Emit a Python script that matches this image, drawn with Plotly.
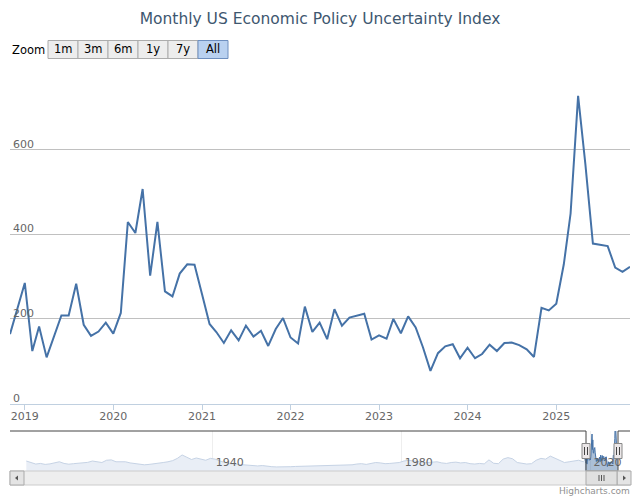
import plotly.graph_objects as go
import pandas as pd

W, H = 640, 500


def px(x):
    return x / W


def py(y):
    return 1 - y / H


# ---------------- data ----------------
title_text = "Monthly US Economic Policy Uncertainty Index"

months = pd.date_range("2018-11-01", "2025-11-01", freq="MS")
epu = [
    164, 225,                                                   # 2018 Nov-Dec
    285, 124, 182, 109, 158, 208, 208, 283, 186, 160, 170, 191,  # 2019
    165, 214, 429, 403, 507, 302, 429, 265, 253, 307, 329, 328,  # 2020
    258, 188, 169, 143, 173, 149, 184, 158, 172, 136, 176, 202,  # 2021
    156, 142, 229, 169, 191, 152, 223, 184, 203, 208, 212, 151,  # 2022
    161, 153, 200, 166, 206, 180, 133, 77, 119, 135, 140, 107,   # 2023
    132, 107, 117, 139, 124, 143, 144, 138, 128, 110, 226, 220,  # 2024
    236, 329, 449, 727, 565, 378, 375, 372, 321, 311, 323,       # 2025
]

# navigator history (rough annual reading of the mini chart)
hist_years = list(range(1900, 2019))
hist_vals = [
    150, 125, 110, 118, 105, 112, 122, 140, 118, 108,
    115, 120, 128, 132, 150, 138, 130, 160, 165, 140,
    135, 140, 125, 115, 110, 100, 105, 110, 118, 130,
    140, 155, 185, 230, 200, 170, 190, 175, 160, 185,
    175, 150, 130, 115, 110, 105, 100, 95, 90, 85,
    90, 80, 75, 72, 70, 72, 75, 78, 80, 78,
    80, 82, 85, 88, 90, 92, 95, 100, 105, 100,
    110, 115, 105, 120, 130, 125, 115, 118, 125, 130,
    150, 160, 150, 145, 140, 130, 135, 140, 125, 118,
    130, 135, 125, 130, 115, 110, 118, 112, 165, 120,
    115, 175, 195, 180, 130, 120, 110, 115, 160, 185,
    175, 215, 190, 165, 130, 140, 150, 160, 140,
]
hist_dates = [pd.Timestamp(f"{y}-07-01") for y in hist_years]

x_tick_years = ["2019", "2020", "2021", "2022", "2023", "2024", "2025"]
y_ticks = [0, 200, 400, 600, 800]
y_tick_text = ["0", "200", "400", "600", ""]
nav_tick_years = ["1940", "1980", "2020"]
zoom_buttons = ["1m", "3m", "6m", "1y", "7y", "All"]
active_button = "All"

# ---------------- figure ----------------
FONT = "DejaVu Sans"
LINE = "#4572A7"

fig = go.Figure()

fig.add_trace(go.Scatter(
    x=months, y=epu, mode="lines",
    line=dict(color=LINE, width=2),
    xaxis="x", yaxis="y", hoverinfo="x+y", showlegend=False,
))

# navigator: unselected part (history) and selected part
fig.add_trace(go.Scatter(
    x=hist_dates + [months[0]], y=hist_vals + [epu[0]],
    mode="lines", fill="tozeroy",
    line=dict(color="#C6D3E5", width=1), fillcolor="#E9EEF6",
    xaxis="x2", yaxis="y2", hoverinfo="skip", showlegend=False,
))
fig.add_trace(go.Scatter(
    x=months, y=epu, mode="lines", fill="tozeroy",
    line=dict(color=LINE, width=1), fillcolor="rgba(69,114,167,0.45)",
    xaxis="x2", yaxis="y2", hoverinfo="skip", showlegend=False,
))

main_dom_x = [px(10), px(630)]

fig.update_layout(
    width=W, height=H, autosize=False,
    margin=dict(l=0, r=0, t=0, b=0),
    paper_bgcolor="white", plot_bgcolor="white",
    font=dict(family=FONT, color="#666666", size=11),
    title=dict(text=title_text, x=0.5, xanchor="center", y=py(19), yanchor="middle",
               font=dict(family=FONT, size=15.5, color="#3E576F")),
    xaxis=dict(
        domain=main_dom_x, anchor="y",
        range=["2018-11-01", "2025-11-01"],
        type="date",
        tickvals=[f"{y}-01-01" for y in x_tick_years], ticktext=x_tick_years,
        showgrid=False, zeroline=False,
        showline=True, linecolor="#C0D0E0", linewidth=1,
        ticks="outside", ticklen=5, tickcolor="#C0D0E0",
        tickfont=dict(size=11, color="#666666", family=FONT),
        ticklabelstandoff=-3,
    ),
    yaxis=dict(
        domain=[py(403.5), py(65)], anchor="x",
        range=[0, 800],
        tickvals=y_ticks,
        showgrid=True, gridcolor="#C0C0C0", gridwidth=1,
        zeroline=False, showline=False, ticks="",
        showticklabels=False,
    ),
    xaxis2=dict(
        domain=main_dom_x, anchor="y2",
        range=["1897-01-14", "2028-05-17"],
        type="date",
        tickvals=[f"{y}-01-01" for y in nav_tick_years], ticktext=nav_tick_years,
        showgrid=True, gridcolor="#EEEEEE", zeroline=False,
        showline=False, ticks="",
        ticklabelposition="inside right", ticklabelstandoff=-3, ticklabelshift=3,
        tickfont=dict(size=11, color="#666666", family=FONT),
    ),
    yaxis2=dict(
        domain=[py(471), py(431)], anchor="x2",
        range=[18, 547],
        showgrid=False, zeroline=False, showticklabels=False, ticks="",
        showline=False,
    ),
)

shapes = []
annotations = []

# y-axis labels (inside, above grid lines, Highcharts-stock style)
for v, t in zip(y_ticks, y_tick_text):
    if t:
        annotations.append(dict(text=t, xref="paper", yref="y", x=px(11), y=v,
                                xanchor="left", yanchor="bottom", yshift=-3,
                                showarrow=False,
                                font=dict(family=FONT, size=11, color="#666666")))

# navigator outline
shapes.append(dict(
    type="path", xref="paper", yref="paper",
    path=(f"M {px(10)},{py(431)} L {px(586)},{py(431)} L {px(586)},{py(471)} "
          f"L {px(618)},{py(471)} L {px(618)},{py(431)} L {px(630)},{py(431)}"),
    line=dict(color="#444444", width=1),
))

# navigator handles
for hx in (586, 618):
    shapes.append(dict(type="rect", xref="paper", yref="paper",
                       x0=px(hx - 4), x1=px(hx + 4), y0=py(443.5), y1=py(458.5),
                       fillcolor="#EBE7E8", line=dict(color="#888888", width=1)))
    for dx in (-1.5, 1.5):
        shapes.append(dict(type="line", xref="paper", yref="paper",
                           x0=px(hx + dx), x1=px(hx + dx), y0=py(447), y1=py(455),
                           line=dict(color="#444444", width=1)))

# scrollbar track
shapes.append(dict(type="rect", xref="paper", yref="paper",
                   x0=px(10), x1=px(630), y0=py(485), y1=py(471),
                   fillcolor="#EEEEEE", line=dict(color="#CCCCCC", width=1)))
# scrollbar buttons
for bx0, bx1 in ((10, 24), (617, 631)):
    shapes.append(dict(type="rect", xref="paper", yref="paper",
                       x0=px(bx0), x1=px(bx1), y0=py(485), y1=py(471),
                       fillcolor="#E4E4E4", line=dict(color="#AAAAAA", width=1)))
# arrows
shapes.append(dict(type="path", xref="paper", yref="paper",
                   path=f"M {px(15)},{py(478)} L {px(18)},{py(475.5)} L {px(18)},{py(480.5)} Z",
                   fillcolor="#555555", line=dict(color="#555555", width=0)))
shapes.append(dict(type="path", xref="paper", yref="paper",
                   path=f"M {px(626)},{py(478)} L {px(623)},{py(475.5)} L {px(623)},{py(480.5)} Z",
                   fillcolor="#555555", line=dict(color="#555555", width=0)))
# thumb
shapes.append(dict(type="rect", xref="paper", yref="paper",
                   x0=px(586), x1=px(617), y0=py(485), y1=py(471),
                   fillcolor="#E0E0E0", line=dict(color="#AAAAAA", width=1)))
for gx in (599, 601.5, 604):
    shapes.append(dict(type="line", xref="paper", yref="paper",
                       x0=px(gx), x1=px(gx), y0=py(475), y1=py(481),
                       line=dict(color="#555555", width=1)))

# zoom buttons
annotations.append(dict(text="Zoom", xref="paper", yref="paper", x=px(10), y=py(50),
                        xanchor="left", yanchor="middle", showarrow=False,
                        font=dict(family=FONT, size=11.5, color="#000000")))
bx = 48
for lab in zoom_buttons:
    active = lab == active_button
    shapes.append(dict(type="rect", xref="paper", yref="paper",
                       x0=px(bx), x1=px(bx + 30), y0=py(58.5), y1=py(40.5),
                       fillcolor="#B9D1F0" if active else "#EDEDED",
                       line=dict(color="#6E8FBF" if active else "#ACACAC", width=1)))
    annotations.append(dict(text=lab, xref="paper", yref="paper", x=px(bx + 15), y=py(49.5),
                            xanchor="center", yanchor="middle", showarrow=False,
                            font=dict(family=FONT, size=11.5, color="#000000")))
    bx += 30

# credits
annotations.append(dict(text="Highcharts.com", xref="paper", yref="paper",
                        x=px(632), y=py(491), xanchor="right", yanchor="middle",
                        showarrow=False, font=dict(family=FONT, size=9, color="#909090")))

fig.update_layout(shapes=shapes, annotations=annotations)

fig.write_html("out.html")
